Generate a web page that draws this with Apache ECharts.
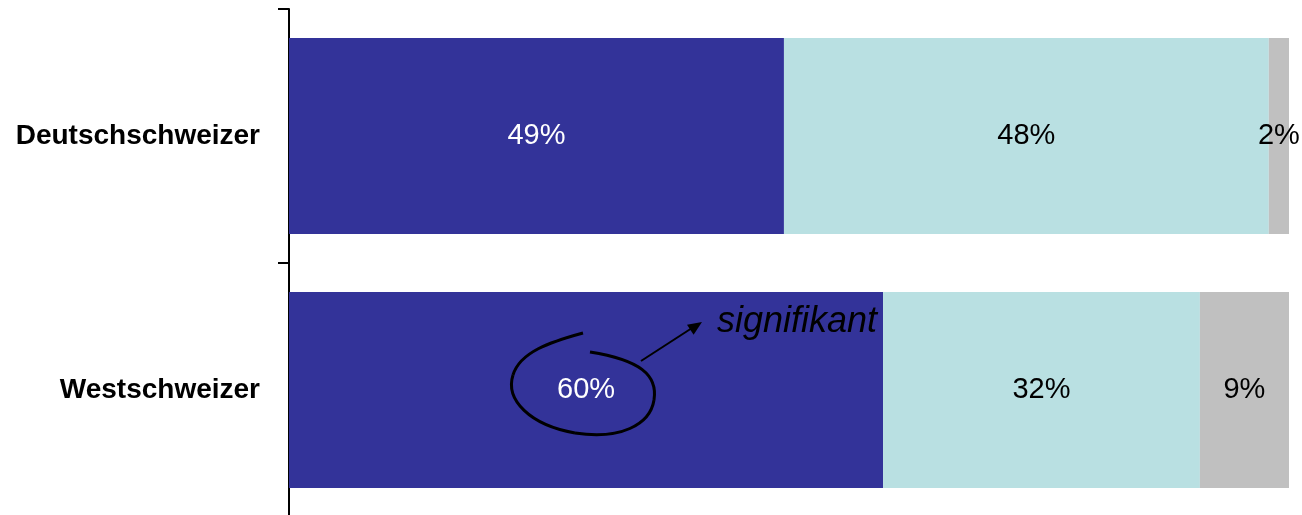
<!DOCTYPE html>
<html><head><meta charset="utf-8">
<script src="https://cdn.jsdelivr.net/npm/echarts@6/dist/echarts.min.js"></script>
<style>html,body{margin:0;padding:0;background:#fff;overflow:hidden;width:1302px;height:515px}#c{width:1302px;height:520px}</style>
</head><body><div id="c"></div>
<script>
const categories = ['Deutschschweizer', 'Westschweizer'];
const seg1 = [49, 60];
const seg2 = [48, 32];
const seg3 = [2, 9];
const segColors = ['#333399', '#B9E0E2', '#C0C0C0'];
const labelColors = ['#ffffff', '#000000', '#000000'];
const FONT = '"Liberation Sans", Arial, sans-serif';

const totals = categories.map((_, i) => seg1[i] + seg2[i] + seg3[i]);
const segs = [seg1, seg2, seg3];

const series = segs.map((arr, s) => ({
  type: 'bar',
  stack: 'all',
  barWidth: 196,
  data: arr.map((v, i) => ({ value: v / totals[i], raw: v })),
  itemStyle: { color: segColors[s] },
  label: {
    show: true,
    position: 'inside',
    formatter: p => p.data.raw + '%',
    color: labelColors[s],
    fontFamily: FONT,
    fontSize: 29,
    fontWeight: 'normal'
  },
  silent: true
}));

const curve = (x1, y1, c1x, c1y, c2x, c2y, x2, y2) => ({
  type: 'bezierCurve',
  shape: { x1: x1, y1: y1, cpx1: c1x, cpy1: c1y, cpx2: c2x, cpy2: c2y, x2: x2, y2: y2 },
  style: { fill: null, stroke: '#000', lineWidth: 3 },
  z: 100
});

const chart = echarts.init(document.getElementById('c'), null, { renderer: 'canvas' });
chart.setOption({
  animation: false,
  grid: { left: 289, right: 13, top: 9, bottom: 3 },
  xAxis: { type: 'value', min: 0, max: 1, show: false },
  yAxis: {
    type: 'category',
    data: categories,
    inverse: true,
    axisLine: { show: true, lineStyle: { color: '#000', width: 2 } },
    axisTick: { show: true, length: 11, lineStyle: { color: '#000', width: 2 } },
    axisLabel: { color: '#000', fontFamily: FONT, fontSize: 28, fontWeight: 'bold', margin: 29 },
    splitLine: { show: false }
  },
  series: series,
  graphic: [
    curve(583, 333, 550, 342, 520, 352, 513, 375),
    curve(513, 375, 505, 400, 530, 425, 575, 433),
    curve(575, 433, 620, 440, 650, 425, 654, 400),
    curve(654, 400, 658, 375, 640, 360, 590, 352),
    {
      type: 'line',
      shape: { x1: 641, y1: 361, x2: 692, y2: 328 },
      style: { stroke: '#000', lineWidth: 2 },
      z: 100
    },
    {
      type: 'polygon',
      shape: { points: [[702, 322], [693.6, 334.7], [687, 324.7]] },
      style: { fill: '#000' },
      z: 100
    },
    {
      type: 'text',
      x: 717, y: 340,
      style: { text: 'signifikant', font: 'italic 36px ' + FONT, fill: '#000', verticalAlign: 'bottom', textVerticalAlign: 'bottom' },
      z: 100
    }
  ]
});
</script></body></html>
